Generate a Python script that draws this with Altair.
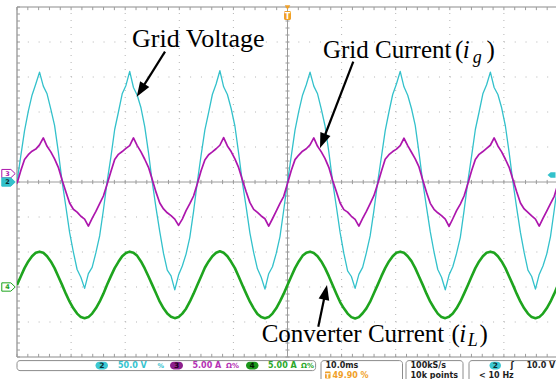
import math
import altair as alt
import numpy as np
import pandas as pd

TIME_PER_DIV_MS = 10.0
VOLTS_PER_DIV = 50.0        # ch2  grid voltage
AMPS_PER_DIV = 5.0          # ch3 grid current, ch4 converter current
CH2_POSITION_DIV = 0.0
CH3_POSITION_DIV = 0.0
CH4_POSITION_DIV = -3.0
TRIGGER_LEVEL_V = 10.0

# record sample instants: -50 ms ... +50 ms, 145 samples (15 deg of 60 Hz apart)
sample_time_ms = np.linspace(-50.0, 50.0, 145)

grid_voltage_v = [
    0, 37, 73, 101, 124, 140, 157, 137, 126, 104, 81, 43, 1, -35, -72, -100, -125, -136, -152, -131, -122, -101, -77, -40,
    1, 36, 75, 100, 126, 138, 158, 135, 124, 106, 79, 42, 0, -37, -71, -102, -126, -134, -154, -133, -120, -103, -79, -42,
    0, 38, 74, 99, 125, 140, 159, 136, 125, 105, 80, 41, -1, -36, -73, -101, -124, -136, -153, -131, -121, -102, -78, -40,
    0, 37, 74, 101, 124, 139, 157, 137, 126, 104, 80, 43, 1, -35, -72, -102, -127, -135, -152, -132, -122, -101, -77, -41,
    0, 36, 73, 100, 125, 140, 158, 136, 124, 105, 81, 42, 0, -36, -71, -100, -125, -136, -154, -133, -121, -102, -79, -41,
    1, 37, 75, 100, 126, 139, 157, 135, 125, 106, 80, 42, 0, -37, -72, -101, -126, -135, -153, -132, -120, -103, -78, -40,
    0,
]

grid_current_a = [
    -0.2, 1.6, 3.2, 3.9, 4.4, 4.7, 5.3, 6.3, 5.1, 4.3, 3.3, 2.1, 0.3, -1.4, -3.0, -3.9, -4.3, -4.9, -5.3, -6.3, -5.2, -4.2, -3.1, -2.0,
    -0.3, 1.5, 3.2, 3.95, 4.35, 4.8, 5.2, 6.3, 5.2, 4.3, 3.25, 2.1, 0.35, -1.45, -3.0, -3.85, -4.4, -4.8, -5.3, -6.2, -5.3, -4.1, -3.1, -2.0,
    -0.25, 1.6, 3.15, 3.9, 4.3, 4.75, 5.25, 6.35, 5.15, 4.35, 3.3, 2.05, 0.3, -1.4, -2.95, -3.9, -4.35, -4.85, -5.25, -6.3, -5.25, -4.15, -3.05, -2.05,
    -0.2, 1.65, 3.2, 3.85, 4.4, 4.75, 5.3, 6.3, 5.1, 4.3, 3.35, 2.1, 0.25, -1.35, -3.0, -3.95, -4.3, -4.9, -5.35, -6.3, -5.2, -4.2, -3.1, -1.95,
    -0.3, 1.55, 3.25, 3.9, 4.35, 4.7, 5.2, 6.25, 5.2, 4.25, 3.3, 2.15, 0.3, -1.45, -3.05, -3.9, -4.4, -4.8, -5.3, -6.35, -5.25, -4.1, -3.15, -2.0,
    -0.25, 1.6, 3.2, 3.95, 4.35, 4.8, 5.25, 6.3, 5.15, 4.3, 3.25, 2.1, 0.35, -1.4, -3.0, -3.85, -4.35, -4.85, -5.3, -6.3, -5.2, -4.15, -3.1, -2.05,
    -0.25,
]

converter_current_a = [
    0.3, 1.5, 2.7, 3.65, 4.4, 4.9, 5.05, 4.9, 4.4, 3.65, 2.7, 1.5, 0.3, -0.95, -2.1, -3.05, -3.8, -4.3, -4.45, -4.3, -3.8, -3.05, -2.1, -0.95,
    0.35, 1.55, 2.7, 3.6, 4.4, 4.85, 5.05, 4.9, 4.45, 3.65, 2.65, 1.5, 0.3, -0.9, -2.1, -3.05, -3.8, -4.25, -4.45, -4.3, -3.8, -3.1, -2.1, -0.95,
    0.3, 1.5, 2.75, 3.65, 4.4, 4.9, 5.1, 4.9, 4.4, 3.6, 2.7, 1.5, 0.25, -0.95, -2.1, -3.05, -3.85, -4.3, -4.45, -4.3, -3.8, -3.05, -2.05, -0.95,
    0.3, 1.5, 2.7, 3.65, 4.45, 4.9, 5.05, 4.85, 4.4, 3.65, 2.7, 1.55, 0.3, -0.95, -2.15, -3.05, -3.8, -4.3, -4.5, -4.3, -3.75, -3.05, -2.1, -0.9,
    0.3, 1.55, 2.7, 3.65, 4.4, 4.9, 5.05, 4.9, 4.4, 3.7, 2.7, 1.5, 0.3, -0.95, -2.1, -3.0, -3.8, -4.3, -4.45, -4.25, -3.8, -3.05, -2.1, -0.95,
    0.25, 1.5, 2.7, 3.65, 4.4, 4.9, 5.05, 4.9, 4.4, 3.65, 2.7, 1.5, 0.3, -0.95, -2.1, -3.05, -3.8, -4.3, -4.45, -4.3, -3.8, -3.05, -2.1, -0.95,
    0.3,
]

# annotation labels (text, time ms, divisions)
annotation_text = ["Grid Voltage", "Grid Current", "(", ")", "Converter Current", "(", ")"]
annotation_t = [-28.74, 6.56, 30.96, 36.78, -4.77, 30.31, 35.49]
annotation_d = [3.866, 3.534, 3.534, 3.534, -4.563, -4.563, -4.563]
annotation_fs = [26, 25, 25, 25, 25, 25, 25]
italic_text = ["i", "g", "i", "L"]
italic_t = [32.4, 34.25, 31.75, 33.3]
italic_d = [3.534, 3.40, -4.563, -4.686]
italic_fs = [25, 18, 25, 18]
# arrows: start (t, d) -> tip (t, d)
arrow_start_t = [-22.64, 12.16, 5.69]
arrow_start_d = [3.723, 3.437, -4.134]
arrow_tip_t = [-27.87, 6.01, 7.30]
arrow_tip_d = [2.437, 0.971, -2.943]

# ---------------- layout ----------------
W, H = 539, 350
LEFT, TOP = 17, 7
PX_PER_DIV_X = 54.1
PX_PER_MS = PX_PER_DIV_X / TIME_PER_DIV_MS
PX_PER_DIV_Y = H / 10.0
T0 = -5 * TIME_PER_DIV_MS
T1 = T0 + W / PX_PER_MS


def t_at(px):
    return T0 + (px - LEFT) / PX_PER_MS


def d_at(py):
    return 5.0 - (py - TOP) / PX_PER_DIV_Y


xs = alt.Scale(domain=[T0, T1], nice=False, zero=False)
ys = alt.Scale(domain=[-5, 5], nice=False, zero=False)


def X(f):
    return alt.X(f, type="quantitative", scale=xs, axis=None)


def Y(f):
    return alt.Y(f, type="quantitative", scale=ys, axis=None)


CYAN = "#33c1cb"
MAGENTA = "#ad16ad"
GREEN = "#1ea41e"
ORANGE = "#f0a028"
GRID = "#b4b4b4"
FRAME = "#8c8c8c"


def segs(rows, color, width=1.0, dash=None):
    df = pd.DataFrame(rows, columns=["t", "t2", "d", "d2"])
    kw = dict(color=color, strokeWidth=width)
    if dash:
        kw["strokeDash"] = dash
    return alt.Chart(df).mark_rule(**kw).encode(x=X("t"), x2="t2", y=Y("d"), y2="d2")


layers = []

# dotted graticule
vrows = [(t, t, -5, 5) for t in np.arange(-40, 41, 10) if t != 0]
hrows = [(T0, T1, d, d) for d in range(-4, 5) if d != 0]
layers.append(segs(vrows, GRID, 1, [1, PX_PER_DIV_Y / 5 - 1]))
layers.append(segs(hrows, GRID, 1, [1, PX_PER_DIV_X / 5 - 1]))

# centre cross and frame
layers.append(segs([(T0, T1, 0, 0), (0, 0, -5, 5)], "#9c9c9c", 1))
layers.append(segs([(T0, T0, -5, 5), (T0, T1, 5, 5), (T0, T1, -5, -5)], FRAME, 1.2))

# minor ticks (0.2 div)
tick_rows = []
for t in np.arange(-50, 50.001, 2.0):
    tick_rows.append((t, t, -0.06, 0.06))
    tick_rows.append((t, t, 5, 4.91))
    tick_rows.append((t, t, -5, -4.91))
for d in np.arange(-5, 5.001, 0.2):
    tick_rows.append((-0.37, 0.37, d, d))
    tick_rows.append((T0, T0 + 0.55, d, d))
layers.append(segs(tick_rows, "#9c9c9c", 1))


# traces
def trace_df(values, per_div, pos):
    return pd.DataFrame({"t": sample_time_ms, "d": np.asarray(values, float) / per_div + pos})


def trace(df, color, w):
    return alt.Chart(df).mark_line(color=color, strokeWidth=w, clip=True, strokeJoin="round").encode(
        x=X("t"), y=Y("d"))


layers.append(trace(trace_df(converter_current_a, AMPS_PER_DIV, CH4_POSITION_DIV), GREEN, 2.6))
layers.append(trace(trace_df(grid_voltage_v, VOLTS_PER_DIV, CH2_POSITION_DIV), CYAN, 1.3))
layers.append(trace(trace_df(grid_current_a, AMPS_PER_DIV, CH3_POSITION_DIV), MAGENTA, 1.7))


# ---------------- scope chrome ----------------
def rects(rows, fill, stroke=None, radius=3, sw=1):
    df = pd.DataFrame([(t_at(a), t_at(b), d_at(c), d_at(e)) for a, b, c, e in rows], columns=["t", "t2", "d", "d2"])
    kw = dict(fill=fill, cornerRadius=radius)
    if stroke:
        kw["stroke"] = stroke
        kw["strokeWidth"] = sw
    return alt.Chart(df).mark_rect(**kw).encode(x=X("t"), x2="t2", y=Y("d"), y2="d2")


def texts(rows, font, weight="normal", style="normal", align="left", baseline="alphabetic", px=True):
    if px:
        rows = [(s, t_at(x), d_at(y), c, f) for s, x, y, c, f in rows]
    df = pd.DataFrame(rows, columns=["txt", "t", "d", "col", "fs"])
    return alt.Chart(df).mark_text(font=font, fontWeight=weight, fontStyle=style, align=align,
                                   baseline=baseline).encode(
        x=X("t"), y=Y("d"), text="txt:N", color=alt.Color("col:N", scale=None),
        size=alt.Size("fs:Q", scale=None))


# status bar boxes
layers.append(rects([(17, 315.6, 360.6, 370.6)], "white", "#8c8c8c"))
layers.append(rects([(321, 402.5, 360.6, 384), (406, 463, 360.6, 384), (469, 565, 360.6, 384)], "white", "#8c8c8c"))
# channel badges
layers.append(rects([(95.5, 108, 361.8, 369.4), (489.5, 501, 361.8, 369.4)], "#3cc8d2", radius=4))
layers.append(rects([(170, 183, 361.8, 369.4)], "#8c1f8c", radius=4))
layers.append(rects([(246, 258.5, 361.8, 369.4)], "#1a961a", radius=4))
layers.append(rects([(325, 330.5, 371.5, 378.5)], ORANGE, radius=1))
layers.append(rects([(284, 291, 11, 20)], ORANGE, radius=1.5))

R1, R2 = 368.3, 377.8
DARK = "#1e1e1e"
status = [
    ("50.0 V", 118, R1, "#33c3cf", 8), ("%", 157.5, R1, "#33c3cf", 6.5),
    ("5.00 A", 192.5, R1, "#b431b4", 8), ("Ω%", 226, R1, "#b431b4", 7),
    ("5.00 A", 268, R1, "#2aa82a", 8), ("Ω%", 301, R1, "#2aa82a", 7),
    ("10.0ms", 325.5, R1, DARK, 8), ("49.90 %", 332.5, R2, ORANGE, 8),
    ("100kS/s", 410.5, R1, DARK, 8), ("10k points", 410.5, R2, DARK, 8),
    ("ʃ", 510.5, R1, DARK, 8), ("10.0 V", 526.5, R1, DARK, 8), ("< 10 Hz", 479, R2, DARK, 8),
]
layers.append(texts(status, "DejaVu Sans", weight=600))
badges = [("2", 101.8, 368.2, "#0b2e33", 7.5), ("3", 176.5, 368.2, "#1a001a", 7.5),
          ("4", 252.2, 368.2, "#021a02", 7.5), ("2", 495.3, 368.2, "#0b2e33", 7.5),
          ("T", 327.8, 377.6, "white", 6.5), ("T", 287.5, 18.5, "white", 8)]
layers.append(texts(badges, "DejaVu Sans", weight="bold", align="center"))

# channel position tags on the left edge, trigger markers
TAG_SHIFT = 0.24   # ch3 tag drawn just above ch2 tag (same position)
TAG = "M-1,-0.62L0.35,-0.62L1,0L0.35,0.62L-1,0.62Z"
tag_rows = pd.DataFrame({"t": [t_at(8.5)] * 3,
                         "d": [CH3_POSITION_DIV + TAG_SHIFT, CH4_POSITION_DIV, CH2_POSITION_DIV],
                         "f": ["white", "white", CYAN], "s": [MAGENTA, GREEN, CYAN]})
layers.append(alt.Chart(tag_rows).mark_point(shape=TAG, size=180, filled=True, strokeWidth=1, opacity=1).encode(
    x=X("t"), y=Y("d"), fill=alt.Fill("f:N", scale=None), stroke=alt.Stroke("s:N", scale=None)))
tag_txt = [("3", t_at(7.5), CH3_POSITION_DIV + TAG_SHIFT - 0.07, MAGENTA, 6.5),
           ("4", t_at(7.5), CH4_POSITION_DIV - 0.07, GREEN, 6.5),
           ("2", t_at(7.5), CH2_POSITION_DIV - 0.07, "#0b2e33", 6.5)]
layers.append(texts(tag_txt, "DejaVu Sans", weight="bold", align="center", px=False))

LEFT_TAG = "M1,-0.7L-0.2,-0.7L-1,0L-0.2,0.7L1,0.7Z"
trig = pd.DataFrame({"t": [t_at(551.5)], "d": [TRIGGER_LEVEL_V / VOLTS_PER_DIV + CH2_POSITION_DIV]})
layers.append(alt.Chart(trig).mark_point(shape=LEFT_TAG, size=64, filled=True, color=CYAN, opacity=1).encode(
    x=X("t"), y=Y("d")))
trig_top = pd.DataFrame({"t": [0.0], "d": [d_at(7.5)]})
layers.append(alt.Chart(trig_top).mark_point(shape="triangle-down", size=30, filled=True, color=ORANGE,
                                             opacity=1).encode(x=X("t"), y=Y("d")))

# ---------------- annotations ----------------
HEAD = 15.0
ARROW = "M0,-1L0.72,1L-0.72,1Z"
lines, heads = [], []
for t0, d0, t1, d1 in zip(arrow_start_t, arrow_start_d, arrow_tip_t, arrow_tip_d):
    dx = (t1 - t0) * PX_PER_MS
    dy = -(d1 - d0) * PX_PER_DIV_Y
    L = math.hypot(dx, dy)
    ux, uy = dx / L, dy / L
    hc_t = t1 - ux * HEAD / 2 / PX_PER_MS
    hc_d = d1 + uy * HEAD / 2 / PX_PER_DIV_Y
    ang = math.degrees(math.atan2(ux, -uy)) % 360
    lines.append((t0, hc_t, d0, hc_d))
    heads.append((hc_t, hc_d, ang))
layers.append(segs(lines, "black", 2.2))
layers.append(alt.Chart(pd.DataFrame(heads, columns=["t", "d", "a"])).mark_point(
    shape=ARROW, size=HEAD * HEAD, filled=True, color="black", opacity=1, strokeWidth=0).encode(
    x=X("t"), y=Y("d"), angle=alt.Angle("a:Q", scale=None)))

ann = [(s, t, d, "black", f) for s, t, d, f in zip(annotation_text, annotation_t, annotation_d, annotation_fs)]
layers.append(texts(ann, "Liberation Serif", px=False))
ita = [(s, t, d, "black", f) for s, t, d, f in zip(italic_text, italic_t, italic_d, italic_fs)]
layers.append(texts(ita, "Liberation Serif", style="italic", px=False))

chart = alt.layer(*layers).properties(
    width=W, height=H,
    padding={"left": LEFT, "top": TOP, "right": 0, "bottom": 379 - TOP - H},
    autosize=alt.AutoSizeParams(type="none"),
    background="white",
).configure_view(stroke=None)

chart.save("out.html", embed_options={"renderer": "svg", "actions": False})
